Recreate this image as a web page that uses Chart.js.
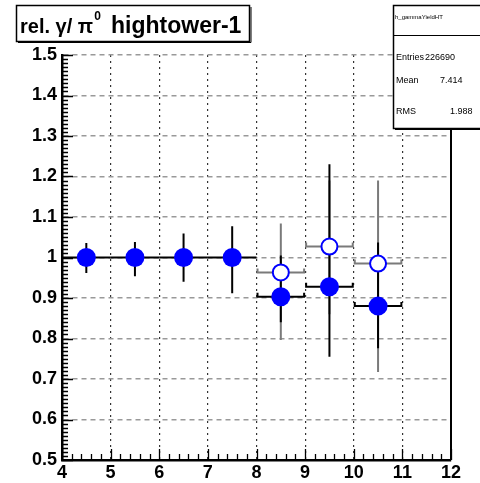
<!DOCTYPE html>
<html>
<head>
<meta charset="utf-8">
<script src="https://cdn.jsdelivr.net/npm/chart.js@4"></script>
<style>
  html, body { margin: 0; padding: 0; background: #fff; }
  #wrap { width: 480px; height: 483px; }
</style>
</head>
<body>
<div id="wrap"><canvas id="gamma__chart"></canvas></div>
<script>
// bins (x centres) and values
var xFilled = [4.5, 5.5, 6.5, 7.5, 8.5, 9.5, 10.5];
var yFilled = [1.0, 1.0, 1.0, 1.0, 0.903, 0.928, 0.880];
var yFilledLow = [0.962, 0.954, 0.940, 0.912, 0.840, 0.755, 0.776];
var yFilledHigh = [1.036, 1.038, 1.059, 1.077, 1.005, 1.230, 1.037];

var xOpen = [8.5, 9.5, 10.5];
var yOpen = [0.963, 1.027, 0.985];
var yOpenLow = [0.796, 0.860, 0.717];
var yOpenHigh = [1.084, 1.190, 1.190];

var xTicks = [4, 5, 6, 7, 8, 9, 10, 11, 12];
var yTicks = [0.5, 0.6, 0.7, 0.8, 0.9, 1.0, 1.1, 1.2, 1.3, 1.4, 1.5];

var statNames = ['Entries', 'Mean', 'RMS'];
var statValues = ['226690', '7.414', '1.988'];

var FONT = '"Liberation Sans", Arial, sans-serif';

function pts(xs, ys) {
    return xs.map(function (x, i) { return { x: x, y: ys[i] }; });
}

// error bars, minor ticks, frame, title and stats boxes
var rootStyle = {
    id: 'rootStyle',
    beforeDatasetsDraw: function (chart) {
        var ctx = chart.ctx, xs = chart.scales.x, ys = chart.scales.y;
        var a = chart.chartArea;
        ctx.save();

        function bars(xv, yv, lo, hi, color, caps) {
            ctx.strokeStyle = color;
            ctx.lineWidth = 2;
            for (var i = 0; i < xv.length; i++) {
                var px = xs.getPixelForValue(xv[i]);
                var py = ys.getPixelForValue(yv[i]);
                var x0 = xs.getPixelForValue(xv[i] - 0.5);
                var x1 = xs.getPixelForValue(xv[i] + 0.5);
                ctx.beginPath();
                ctx.moveTo(px, ys.getPixelForValue(lo[i]));
                ctx.lineTo(px, ys.getPixelForValue(hi[i]));
                ctx.moveTo(x0, py);
                ctx.lineTo(x1, py);
                if (caps[i]) {
                    ctx.moveTo(x0 + 1, py - 4); ctx.lineTo(x0 + 1, py + 1);
                    ctx.moveTo(x1 - 1, py - 4); ctx.lineTo(x1 - 1, py + 1);
                }
                ctx.stroke();
            }
        }
        bars(xOpen, yOpen, yOpenLow, yOpenHigh, '#7a7a7a', [1, 1, 1]);
        bars(xFilled, yFilled, yFilledLow, yFilledHigh, '#000', [0, 0, 0, 0, 1, 1, 1]);

        // minor + major ticks on the axes
        ctx.strokeStyle = '#000';
        ctx.lineWidth = 1.3;
        ctx.beginPath();
        for (var k = 0; k <= 100; k++) {
            var py = Math.round(ys.getPixelForValue(0.5 + k * 0.01)) + 0.5;
            ctx.moveTo(a.left, py);
            ctx.lineTo(a.left + (k % 10 === 0 ? 11 : 6), py);
        }
        for (var j = 0; j <= 40; j++) {
            var px = Math.round(xs.getPixelForValue(4 + j * 0.2)) + 0.5;
            ctx.moveTo(px, a.bottom);
            ctx.lineTo(px, a.bottom - (j % 5 === 0 ? 11 : 6));
        }
        ctx.stroke();

        // right frame
        ctx.lineWidth = 2;
        ctx.beginPath();
        ctx.moveTo(a.right, a.top);
        ctx.lineTo(a.right, a.bottom);
        ctx.stroke();
        ctx.restore();
    },
    afterDraw: function (chart) {
        var ctx = chart.ctx;
        ctx.save();

        // title box
        ctx.fillStyle = '#fff';
        ctx.fillRect(16, 5, 234, 37);
        ctx.strokeStyle = '#000';
        ctx.lineWidth = 1.5;
        ctx.strokeRect(16.5, 5.5, 233, 36);
        ctx.lineWidth = 1;
        ctx.beginPath();
        ctx.moveTo(18, 42.5); ctx.lineTo(251, 42.5); ctx.lineTo(251, 7);
        ctx.stroke();
        ctx.fillStyle = '#000';
        ctx.textBaseline = 'alphabetic';
        ctx.textAlign = 'left';
        ctx.font = 'bold 20px ' + FONT;
        ctx.fillText('rel. \u03B3/ \u03C0', 20, 33);
        var w = ctx.measureText('rel. \u03B3/ \u03C0').width;
        ctx.font = 'bold 12px ' + FONT;
        ctx.fillText('0', 20 + w + 1, 20);
        ctx.font = 'bold 23px ' + FONT;
        ctx.fillText('hightower-1', 111, 33);

        // stats box
        ctx.fillStyle = '#fff';
        ctx.fillRect(393, 5, 95, 124);
        ctx.lineWidth = 1.5;
        ctx.strokeRect(393.5, 5.5, 95, 123);
        ctx.lineWidth = 2;
        ctx.beginPath();
        ctx.moveTo(395, 129); ctx.lineTo(490, 129);
        ctx.stroke();
        ctx.lineWidth = 1;
        ctx.beginPath();
        ctx.moveTo(393, 35.5); ctx.lineTo(490, 35.5);
        ctx.stroke();
        ctx.fillStyle = '#000';
        ctx.font = '6px ' + FONT;
        ctx.fillText('h_gammaYieldHT', 395, 19);
        ctx.font = '9px ' + FONT;
        var rows = [60, 83, 114];
        var valX = [425, 440, 450];
        for (var i = 0; i < statNames.length; i++) {
            ctx.fillText(statNames[i], 396, rows[i]);
            ctx.fillText(statValues[i], valX[i], rows[i]);
        }
        ctx.restore();
    }
};

var ctx = document.getElementById('gamma__chart');
var gamma__chart = new Chart(ctx, {
    type: 'scatter',
    data: {
        datasets: [{
            label: 'filled',
            data: pts(xFilled, yFilled),
            pointRadius: 9.5,
            pointBackgroundColor: '#0000ff',
            pointBorderColor: '#0000ff',
            pointBorderWidth: 0,
            order: 1
        }, {
            label: 'open',
            data: pts(xOpen, yOpen),
            pointRadius: 8,
            pointBackgroundColor: '#ffffff',
            pointBorderColor: '#0000ff',
            pointBorderWidth: 2,
            order: 0
        }]
    },
    options: {
        responsive: true,
        maintainAspectRatio: false,
        animation: false,
        layout: { padding: { left: 0, top: 55, right: 29, bottom: 0 } },
        plugins: { legend: { display: false }, tooltip: { enabled: false } },
        scales: {
            x: {
                type: 'linear',
                min: 4, max: 12,
                afterBuildTicks: function (s) { s.ticks = xTicks.map(function (v) { return { value: v }; }); },
                afterFit: function (s) { s.height = 23; },
                grid: { color: '#333', lineWidth: 1.2, drawTicks: false },
                border: { color: '#000', width: 2.5, dash: [2, 4] },
                ticks: {
                    color: '#000', padding: 2, maxRotation: 0,
                    font: { family: FONT, size: 18, weight: 'bold' },
                    callback: function (v) { return String(v); }
                }
            },
            y: {
                min: 0.5, max: 1.5,
                afterBuildTicks: function (s) { s.ticks = yTicks.map(function (v) { return { value: v }; }); },
                afterFit: function (s) { s.width = 62; },
                grid: { color: '#999', lineWidth: 1.5, drawTicks: false },
                border: { color: '#000', width: 2.5, dash: [5, 4] },
                ticks: {
                    color: '#000', padding: 5,
                    font: { family: FONT, size: 18, weight: 'bold' },
                    callback: function (v) { return String(Number(v.toFixed(1))); }
                }
            }
        }
    },
    plugins: [rootStyle]
});
</script>
</body>
</html>
